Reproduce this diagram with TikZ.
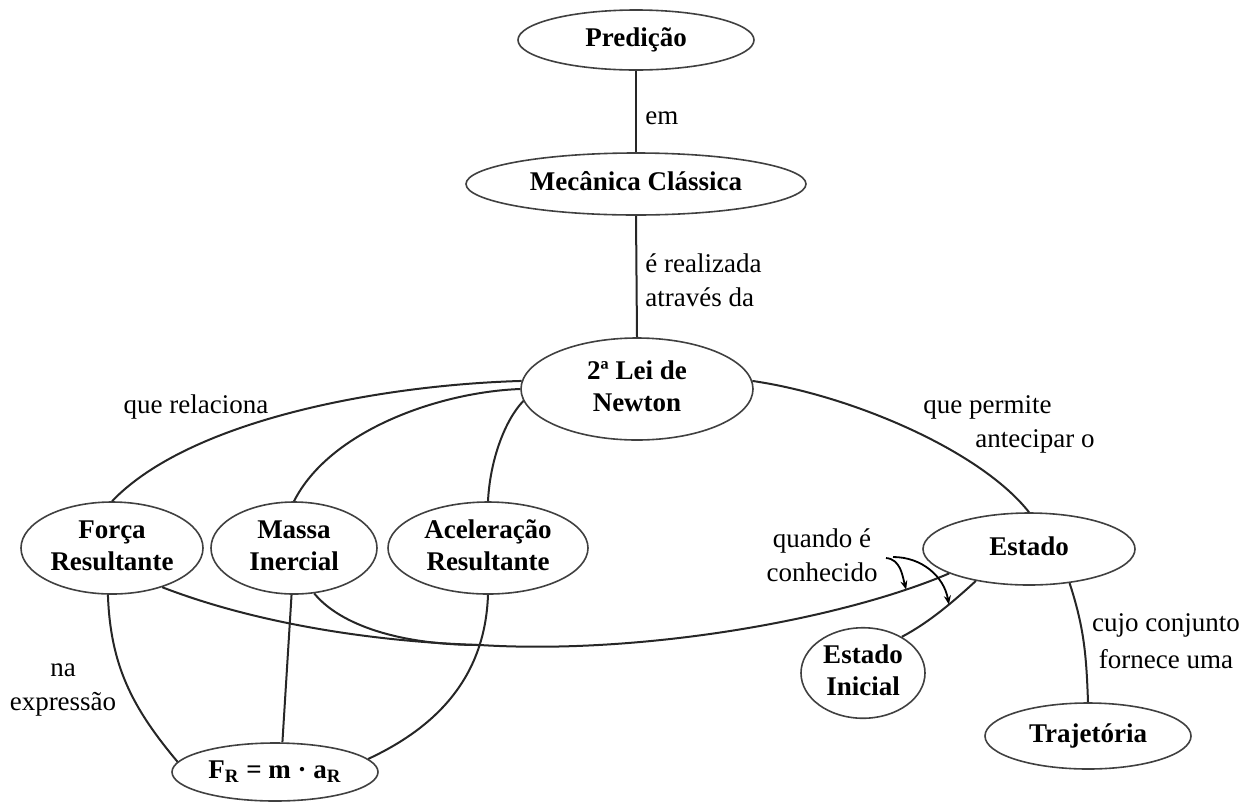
\documentclass[tikz,border=0pt]{standalone}
\usepackage{fontspec}
\setmainfont{Liberation Serif}
\usetikzlibrary{shapes.geometric,arrows.meta}
\newcommand{\mytx}[1]{\makebox[0pt]{\begin{tabular}{@{}c@{}}#1\end{tabular}}}
\begin{document}
\begin{tikzpicture}[x=0.5pt,y=-0.5pt,
  ell/.style={ellipse, draw=black!75, line width=0.8pt, inner sep=0pt,
    font=\bfseries\fontsize{13.5}{16}\selectfont},
  lbl/.style={font=\fontsize{13.5}{17}\selectfont, inner sep=0pt},
  con/.style={draw=black!85, line width=1pt},
  arr/.style={draw=black, line width=0.9pt, -{Stealth[length=4.5pt,width=3.5pt]}}]
\useasboundingbox (0,0) rectangle (1252,804);

% concept nodes
\node[ell, minimum width=118pt, minimum height=30pt] (pred) at (636,40) {\mytx{Predição}};
\node[ell, minimum width=170pt, minimum height=31pt] (mec) at (636,184) {\mytx{Mecânica Clássica}};
\node[ell, minimum width=116pt, minimum height=51pt] (lei) at (637,389) {\mytx{2ª Lei de\\Newton}};
\node[ell, minimum width=91pt, minimum height=46pt] (forca) at (112,548) {\mytx{Força\\Resultante}};
\node[ell, minimum width=83pt, minimum height=46pt] (massa) at (294,548) {\mytx{Massa\\Inercial}};
\node[ell, minimum width=100pt, minimum height=46pt] (acel) at (488,548) {\mytx{Aceleração\\Resultante}};
\node[ell, minimum width=106pt, minimum height=36pt] (estado) at (1029,549) {\mytx{Estado}};
\node[ell, minimum width=62pt, minimum height=45pt] (inicial) at (863,673) {\mytx{Estado\\Inicial}};
\node[ell, minimum width=103pt, minimum height=33pt] (traj) at (1088,736) {\mytx{Trajetória}};
\node[ell, minimum width=103pt, minimum height=29pt] (fr) at (275,772) {\mytx{F\textsubscript{R} = m · a\textsubscript{R}}};

% linking labels
\node[lbl, anchor=west] (l1) at (645,118) {em};
\node[lbl, anchor=west, align=left] (l2) at (645,280) {é realizada\\através da};
\node[lbl] (l3) at (196,407) {que relaciona};
\node[lbl, anchor=west, align=left] (l4) at (923,424) {que permite\\\hspace*{26pt}antecipar o};
\node[lbl, align=center] (l5) at (822,555) {quando é\\conhecido};
\node[lbl, align=center, font=\fontsize{13.5}{18.5}\selectfont] (l6) at (1166,641) {cujo conjunto\\fornece uma};
\node[lbl, align=center] (l7) at (63,690) {na\\expressão};

% connectors
\draw[con] (pred.south) -- (mec.north);
\draw[con] (mec.south) -- (lei.north);
\draw[con] (lei.176) .. controls (380,385) and (190,420) .. (forca.north);
\draw[con] (lei.180) .. controls (440,392) and (330,430) .. (massa.north);
\draw[con] (lei.186) .. controls (505,420) and (490,460) .. (acel.north);
\draw[con] (lei.4) .. controls (850,395) and (980,450) .. (estado.north);

\coordinate (mg) at (480,645);
\draw[con] (forca.322) .. controls (260,625) and (380,642) .. (mg);
\draw[con] (massa.294) .. controls (340,625) and (400,645) .. (mg);
\draw[con] (mg) .. controls (640,655) and (840,620) .. (estado.197) coordinate[pos=0.88] (t1);
\draw[con] (estado.211) .. controls (955,600) and (930,622) .. (inicial.43) coordinate[pos=0.4] (t2);
\draw[con] (estado.320) to[out=-72,in=92] (traj.north);

\draw[con] (forca.265) to[out=-88,in=130] (fr.174);
\draw[con] (massa.267) -- (fr.76);
\draw[con] (acel.south) to[out=-92,in=25] (fr.8);

% arrows from "quando é conhecido"
\coordinate (q1) at (886,558);
\coordinate (q2) at (893,557);
\draw[arr] (q1) to[out=-5,in=105] (t1);
\draw[arr] (q2) to[out=0,in=100] (t2);
\end{tikzpicture}
\end{document}
